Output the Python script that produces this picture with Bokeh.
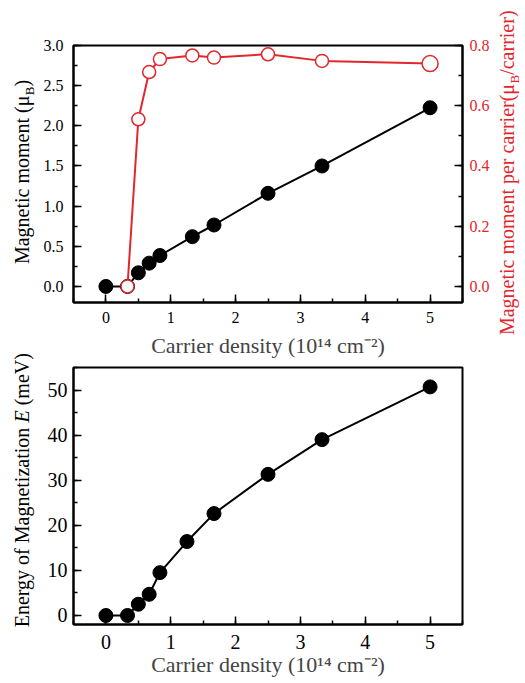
import math
from bokeh.plotting import figure
from bokeh.models import Range1d, LinearAxis, SingleIntervalTicker, NumeralTickFormatter
from bokeh.core.properties import value
from bokeh.layouts import column, row
from bokeh.embed import file_html
from bokeh.resources import INLINE

# ---------------- data ----------------
carrier_m = [0.0, 0.333, 0.5, 0.667, 0.833, 1.333, 1.667, 2.5, 3.333, 5.0]
moment = [0.0, 0.0, 0.17, 0.29, 0.385, 0.62, 0.765, 1.16, 1.50, 2.225]

carrier_pc = [0.333, 0.5, 0.667, 0.833, 1.333, 1.667, 2.5, 3.333, 5.0]
moment_per_carrier = [0.0, 0.555, 0.712, 0.755, 0.767, 0.760, 0.771, 0.749, 0.740]

carrier_e = [0.0, 0.333, 0.5, 0.667, 0.833, 1.25, 1.667, 2.5, 3.333, 5.0]
energy = [0.0, 0.0, 2.5, 4.7, 9.5, 16.4, 22.6, 31.3, 39.0, 50.7]

x_title = "Carrier density (10¹⁴ cm⁻²)"

RED = "#e3262b"
FONT = "Liberation Serif"
V = math.pi / 2
PAGE_H = 683

# approximate advance widths (Times metrics, per 1000 em) used to chain title pieces
ADV = {" ": 250, "(": 333, ")": 333, "/": 278, "M": 889, "E": 611, "B": 667, "V": 722,
       "a": 444, "c": 444, "d": 500, "e": 444, "g": 500, "i": 278, "m": 778, "n": 500,
       "o": 500, "p": 500, "r": 333, "t": 278, "y": 500, "z": 444, "f": 333, "μ": 576}


def adv(text, size):
    return sum(ADV.get(ch, 500) for ch in text) * size / 1000.0


def style_axis(ax, size, standoff):
    ax.axis_line_width = 2
    ax.axis_line_color = "black"
    ax.major_tick_in = 8
    ax.major_tick_out = 0
    ax.minor_tick_in = 4
    ax.minor_tick_out = 0
    ax.major_tick_line_width = 1.5
    ax.minor_tick_line_width = 1.5
    ax.major_tick_line_color = "black"
    ax.minor_tick_line_color = "black"
    ax.major_label_text_font = FONT
    ax.major_label_text_font_size = size
    ax.major_label_text_color = "black"
    ax.major_label_standoff = standoff


def strip(w, h):
    f = figure(width=w, height=h, x_range=Range1d(0, w), y_range=Range1d(0, h),
               toolbar_location=None, output_backend="svg", min_border=0,
               x_axis_type=None, y_axis_type=None)
    f.outline_line_color = None
    return f


def vtitle(f, start, pieces, color="black"):
    """pieces: (text, font px, baseline x, style, gap before). Text reads bottom-to-top."""
    cur = start
    for text, size, bx, style, gap in pieces:
        cur += gap
        w = adv(text, size)
        f.text(x=[bx - 0.3375 * size], y=[cur + w / 2.0], text=[text], angle=V,
               text_font=value(FONT), text_font_size=value(f"{size}px"), text_color=color,
               text_font_style=value(style), text_align=value("center"),
               text_baseline=value("middle"))
        cur += w


# ---------------- top figure ----------------
p1 = figure(width=452, height=360, x_range=Range1d(-0.5, 5.5), y_range=Range1d(-0.2, 3.0003),
            toolbar_location=None, output_backend="svg",
            min_border_left=33, min_border_right=29, min_border_top=45, min_border_bottom=58)
p1.xgrid.visible = False
p1.ygrid.visible = False
p1.outline_line_color = "black"
p1.outline_line_width = 2

xa = p1.below[0]
xa.ticker = SingleIntervalTicker(interval=1, num_minor_ticks=2)
style_axis(xa, "16px", 9)
xa.axis_label = x_title
xa.axis_label_text_font = FONT
xa.axis_label_text_font_size = "22px"
xa.axis_label_text_font_style = "normal"
xa.axis_label_standoff = 7

ya = p1.left[0]
ya.ticker = SingleIntervalTicker(interval=0.5, num_minor_ticks=2)
ya.formatter = NumeralTickFormatter(format="0.0")
style_axis(ya, "16px", 10)

p1.extra_y_ranges = {"pc": Range1d(-0.2 * 0.8 / 3.0, 0.8 * 3.0003 / 3.0)}
ra = LinearAxis(y_range_name="pc",
                ticker=SingleIntervalTicker(interval=0.2, num_minor_ticks=2),
                formatter=NumeralTickFormatter(format="0.0"))
style_axis(ra, "16px", 7)
ra.major_label_text_color = RED
p1.add_layout(ra, "right")

p1.line(carrier_m, moment, line_color="black", line_width=2)
p1.scatter(carrier_m, moment, marker="circle", size=14, fill_color="black", line_color="black")
p1.line(carrier_pc, moment_per_carrier, line_color=RED, line_width=2, y_range_name="pc")
p1.scatter(carrier_pc[:-1], moment_per_carrier[:-1], marker="circle", size=13, fill_color="white",
           line_color=RED, line_width=1.5, y_range_name="pc")
p1.scatter(carrier_pc[-1:], moment_per_carrier[-1:], marker="circle", size=16, fill_color="white",
           line_color=RED, line_width=1.5, y_range_name="pc")

# ---------------- bottom figure ----------------
p2 = figure(width=452, height=323, x_range=Range1d(-0.5, 5.5), y_range=Range1d(-2, 55),
            toolbar_location=None, output_backend="svg",
            min_border_left=33, min_border_right=29, min_border_top=7, min_border_bottom=59)
p2.xgrid.visible = False
p2.ygrid.visible = False
p2.outline_line_color = "black"
p2.outline_line_width = 2

xb = p2.below[0]
xb.ticker = SingleIntervalTicker(interval=1, num_minor_ticks=2)
style_axis(xb, "20px", 10)
xb.axis_label = x_title
xb.axis_label_text_font = FONT
xb.axis_label_text_font_size = "22px"
xb.axis_label_text_font_style = "normal"
xb.axis_label_standoff = 0

yb = p2.left[0]
yb.ticker = SingleIntervalTicker(interval=10, num_minor_ticks=2)
style_axis(yb, "20px", 6)

p2.line(carrier_e, energy, line_color="black", line_width=2)
p2.scatter(carrier_e, energy, marker="circle", size=14, fill_color="black", line_color="black")

# left title strip (page x 0-40, full height)
L = strip(40, PAGE_H)
vtitle(L, PAGE_H - 264, [("Magnetic moment (μ", 20, 28, "normal", 0),
                         ("B", 13, 33, "normal", 0),
                         (")", 20, 28, "normal", 0)])
vtitle(L, PAGE_H - 627, [("Energy of Magnetization", 20, 28, "normal", 0),
                         ("E", 20, 28, "italic", 5),
                         ("(meV)", 20, 28, "normal", 5)])

# right title strip (page x 492-525, full height)
R = strip(33, PAGE_H)
vtitle(R, PAGE_H - 335, [("Magnetic moment per carrier(μ", 20, 21, "normal", 0),
                         ("B", 13, 26, "normal", 0),
                         ("/carrier)", 20, 21, "normal", 0)], color=RED)

layout = row(L, column(p1, p2), R)
open("out.html", "w").write(file_html(layout, INLINE))
